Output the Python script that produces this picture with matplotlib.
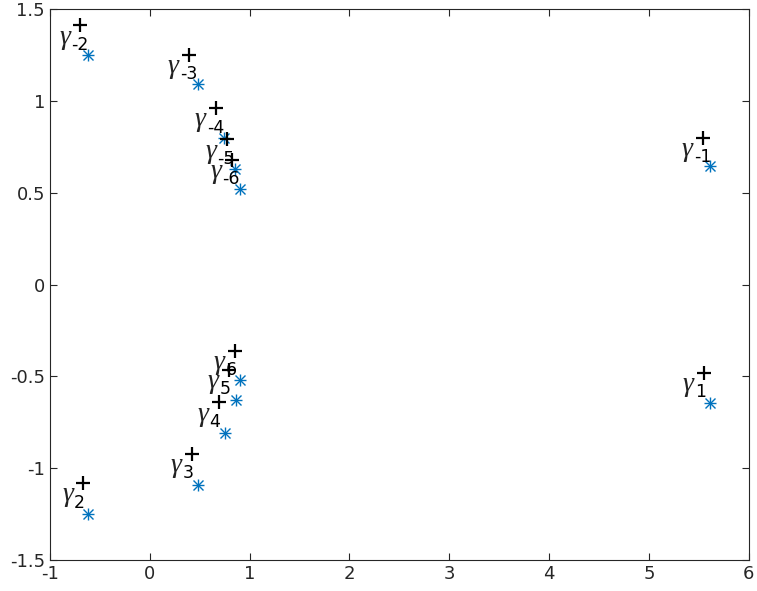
import numpy as np
import matplotlib
matplotlib.use("Agg")
import matplotlib.pyplot as plt

# approximate eigenvalues (black +)
approx_x = [5.54, -0.70, 0.39, 0.66, 0.77, 0.82,
            5.55, -0.67, 0.42, 0.69, 0.79, 0.85]
approx_y = [0.80, 1.41, 1.25, 0.96, 0.79, 0.68,
            -0.48, -1.08, -0.92, -0.64, -0.465, -0.36]

# exact eigenvalues (blue *)
exact_x = [5.61, -0.62, 0.48, 0.74, 0.85, 0.90,
           5.61, -0.62, 0.48, 0.75, 0.86, 0.90]
exact_y = [0.645, 1.25, 1.09, 0.80, 0.63, 0.52,
           -0.645, -1.25, -1.09, -0.81, -0.63, -0.52]

labels = ["-1", "-2", "-3", "-4", "-5", "-6",
          "1", "2", "3", "4", "5", "6"]

x_ticks = [-1, 0, 1, 2, 3, 4, 5, 6]
y_ticks = [-1.5, -1, -0.5, 0, 0.5, 1, 1.5]

blue = "#0072BD"

fig = plt.figure(figsize=(7.57, 5.91), dpi=100)
ax = fig.add_axes([0.066, 0.052, 0.923, 0.933])

ax.plot(exact_x, exact_y, linestyle="none", marker="+",
        color=blue, markersize=9, markeredgewidth=1.0)
ax.plot(exact_x, exact_y, linestyle="none", marker="x",
        color=blue, markersize=6.5, markeredgewidth=1.0)
ax.plot(approx_x, approx_y, linestyle="none", marker="+",
        color="black", markersize=10, markeredgewidth=1.6)

for x, y, lab in zip(approx_x, approx_y, labels):
    # gamma glyph
    ax.annotate("\u03b3", xy=(x, y), xytext=(-15, -8.5),
                textcoords="offset points", fontsize=20,
                family="Liberation Serif", style="italic",
                ha="left", va="center", color="#222222")
    # subscript
    ax.annotate(lab, xy=(x, y), xytext=(-6.5, -14),
                textcoords="offset points", fontsize=12.5,
                ha="left", va="center", color="black")

ax.set_xlim(-1, 6)
ax.set_ylim(-1.5, 1.5)
ax.set_xticks(x_ticks)
ax.set_yticks(y_ticks)
ax.set_xticklabels([f"{t:g}" for t in x_ticks])
ax.set_yticklabels([f"{t:g}" for t in y_ticks])
ax.tick_params(direction="in", top=True, right=True, labelsize=13,
               length=5, color="#262626", labelcolor="#262626")
for s in ax.spines.values():
    s.set_color("#262626")

fig.savefig("out.png", dpi=100)
